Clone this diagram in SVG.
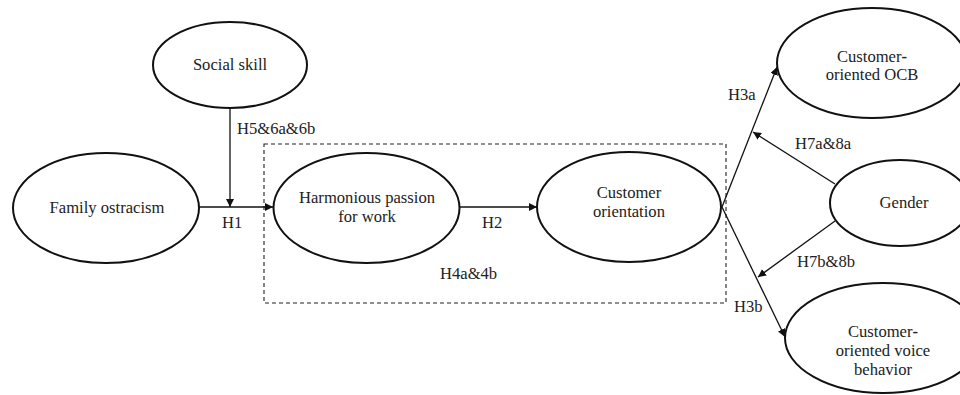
<svg xmlns="http://www.w3.org/2000/svg" width="960" height="395" viewBox="0 0 960 395">
<style>
.n{fill:#fff;stroke:#111;stroke-width:2}
text{font-family:'Liberation Serif','Times New Roman',Tinos,'DejaVu Serif',serif;font-size:16.6px;fill:#222}
.m{text-anchor:middle}
.b{font-weight:bold}
.c{stroke:#111;stroke-width:1.3;fill:none}
.d{stroke:#222;stroke-width:1.1;fill:none;stroke-dasharray:4 3}
</style>
<defs>
<marker id="a" viewBox="0 0 10 10" refX="10" refY="5" markerWidth="8" markerHeight="8" markerUnits="userSpaceOnUse" orient="auto">
<path d="M0,0 L10,5 L0,10 z" fill="#111"/>
</marker>
</defs>
<rect class="d" x="264" y="144" width="462" height="159"/>
<g id="connectors">
<line class="c" x1="230" y1="108" x2="230" y2="207" marker-end="url(#a)"/>
<line class="c" x1="199" y1="207" x2="273" y2="207" marker-end="url(#a)"/>
<line class="c" x1="460" y1="207" x2="537" y2="207" marker-end="url(#a)"/>
<line class="c" x1="722" y1="207" x2="777" y2="67" marker-end="url(#a)"/>
<line class="c" x1="722" y1="207" x2="785" y2="337" marker-end="url(#a)"/>
<line class="c" x1="835" y1="184" x2="753" y2="132" marker-end="url(#a)"/>
<line class="c" x1="835" y1="221" x2="758" y2="277" marker-end="url(#a)"/>
<text x="237" y="134">H5&amp;6a&amp;6b</text>
<text x="222" y="228">H1</text>
<text x="482" y="228">H2</text>
<text x="440" y="279">H4a&amp;4b</text>
<text x="728" y="100">H3a</text>
<text x="795" y="149">H7a&amp;8a</text>
<text x="797" y="267">H7b&amp;8b</text>
<text x="734" y="312">H3b</text>
</g>
<g id="social-skill">
<ellipse class="n" cx="230" cy="65" rx="77" ry="43"/>
<text class="m" x="230" y="70">Social skill</text>
</g>
<g id="family-ostracism">
<ellipse class="n" cx="106" cy="208" rx="93" ry="55"/>
<text class="m" x="107" y="213">Family ostracism</text>
</g>
<g id="harmonious-passion">
<ellipse class="n" cx="366.5" cy="208" rx="93" ry="55"/>
<text class="m" x="367" y="203">Harmonious passion</text>
<text class="m" x="367" y="222">for work</text>
</g>
<g id="customer-orientation">
<ellipse class="n" cx="629" cy="207" rx="92" ry="55"/>
<text class="m" x="629" y="198">Customer</text>
<text class="m" x="629" y="217">orientation</text>
</g>
<g id="customer-oriented-ocb">
<ellipse class="n" cx="872" cy="63" rx="95" ry="55"/>
<text class="m" x="872" y="62">Customer<tspan class="b">-</tspan></text>
<text class="m" x="872" y="80">oriented OCB</text>
</g>
<g id="gender">
<ellipse class="n" cx="900" cy="203" rx="70" ry="43"/>
<text class="m" x="904" y="208">Gender</text>
</g>
<g id="customer-oriented-voice">
<ellipse class="n" cx="883" cy="338" rx="98" ry="55"/>
<text class="m" x="883" y="337">Customer<tspan class="b">-</tspan></text>
<text class="m" x="883" y="356">oriented voice</text>
<text class="m" x="883" y="375">behavior</text>
</g>
</svg>
